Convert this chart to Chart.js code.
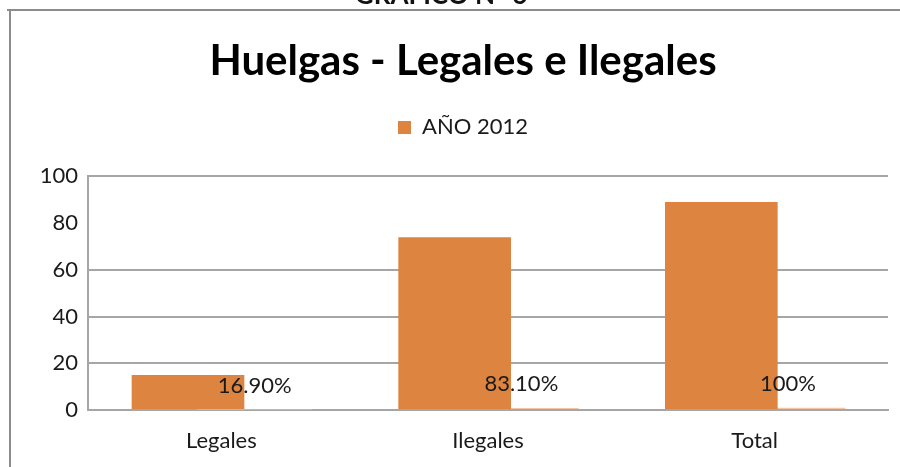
<!DOCTYPE html>
<html>
<head>
<meta charset="utf-8">
<script src="https://cdn.jsdelivr.net/npm/chart.js@4.4.1/dist/chart.umd.min.js"></script>
<style>
  html, body { margin: 0; padding: 0; background: #fff; }
  #wrap { width: 900px; height: 467px; }
</style>
</head>
<body>
<div id="wrap"><canvas id="myChart" width="900" height="467"></canvas></div>
<script>
const categories = ['Legales', 'Ilegales', 'Total'];
const huelgas2012 = [15, 74, 89];
const porcentajes = [0.169, 0.831, 1];
const porcentajeLabels = ['16.90%', '83.10%', '100%'];
const yTicks = [0, 20, 40, 60, 80, 100];

// frame of the original sheet and the cut-off heading above it
const framePlugin = {
  id: 'frame',
  afterInit(chart) {
    // leave a gap between legend and plot, like the excel chart
    const fit = chart.legend.fit;
    chart.legend.fit = function () {
      fit.call(this);
      this.height += 28;
    };
  },
  beforeDraw(chart) {
    const ctx = chart.ctx;
    ctx.save();
    ctx.fillStyle = '#fff';
    ctx.fillRect(0, 0, chart.width, chart.height);
    ctx.fillStyle = '#111';
    ctx.font = 'bold 26px Lato';
    ctx.textAlign = 'center';
    ctx.textBaseline = 'alphabetic';
    ctx.fillText('GRAFICO N° 6', 441, 4);
    ctx.strokeStyle = '#8c8c8c';
    ctx.lineWidth = 2;
    ctx.beginPath();
    ctx.moveTo(7, 10);
    ctx.lineTo(chart.width, 10);
    ctx.moveTo(10, 10);
    ctx.lineTo(10, chart.height);
    ctx.stroke();
    ctx.restore();
  }
};

// percentage labels over the small second series
const labelPlugin = {
  id: 'pctLabels',
  afterDatasetsDraw(chart) {
    const ctx = chart.ctx;
    const meta = chart.getDatasetMeta(1);
    ctx.save();
    ctx.fillStyle = '#1a1a1a';
    ctx.font = '22px Lato';
    ctx.textAlign = 'center';
    ctx.textBaseline = 'middle';
    meta.data.forEach((bar, i) => {
      ctx.fillText(porcentajeLabels[i], bar.x, bar.y - 24);
    });
    ctx.restore();
  }
};

const ctx = document.getElementById('myChart');
new Chart(ctx, {
  type: 'bar',
  data: {
    labels: categories,
    datasets: [{
      label: 'AÑO 2012',
      data: huelgas2012,
      backgroundColor: '#dc8440',
      categoryPercentage: 0.5,
      barPercentage: 1.69
    }, {
      label: 'Porcentaje',
      data: porcentajes,
      backgroundColor: '#f6c4a0',
      categoryPercentage: 0.5,
      barPercentage: 1.72
    }]
  },
  options: {
    responsive: false,
    animation: false,
    layout: { padding: { top: 20, right: 12, left: 38, bottom: 0 } },
    plugins: {
      title: {
        display: true,
        text: 'Huelgas - Legales e Ilegales',
        color: '#000',
        font: { family: 'Lato', size: 42, weight: 'bold', lineHeight: 1.2 },
        padding: { top: 16, bottom: 6 }
      },
      legend: {
        display: true,
        labels: {
          filter: item => item.datasetIndex === 0,
          color: '#1a1a1a',
          font: { family: 'Lato', size: 22 },
          boxWidth: 13,
          boxHeight: 13,
          padding: 24
        }
      },
      tooltip: { enabled: false }
    },
    scales: {
      x: {
        afterFit(scale) { scale.height = 57; },
        grid: { display: false, drawTicks: false },
        border: { display: true, color: '#a6a6a6', width: 2 },
        ticks: { color: '#1a1a1a', font: { family: 'Lato', size: 22 }, padding: 18 }
      },
      y: {
        min: 0,
        max: 100,
        afterFit(scale) { scale.width = 50; },
        afterBuildTicks(scale) { scale.ticks = yTicks.map(v => ({ value: v })); },
        grid: {
          drawTicks: false,
          lineWidth: 2,
          color: c => c.tick && c.tick.value === 80 ? 'rgba(0,0,0,0)' : '#a6a6a6'
        },
        border: { display: true, color: '#a6a6a6', width: 2 },
        ticks: { color: '#1a1a1a', font: { family: 'Lato', size: 22 }, padding: 10 }
      }
    }
  },
  plugins: [framePlugin, labelPlugin]
});
</script>
</body>
</html>
